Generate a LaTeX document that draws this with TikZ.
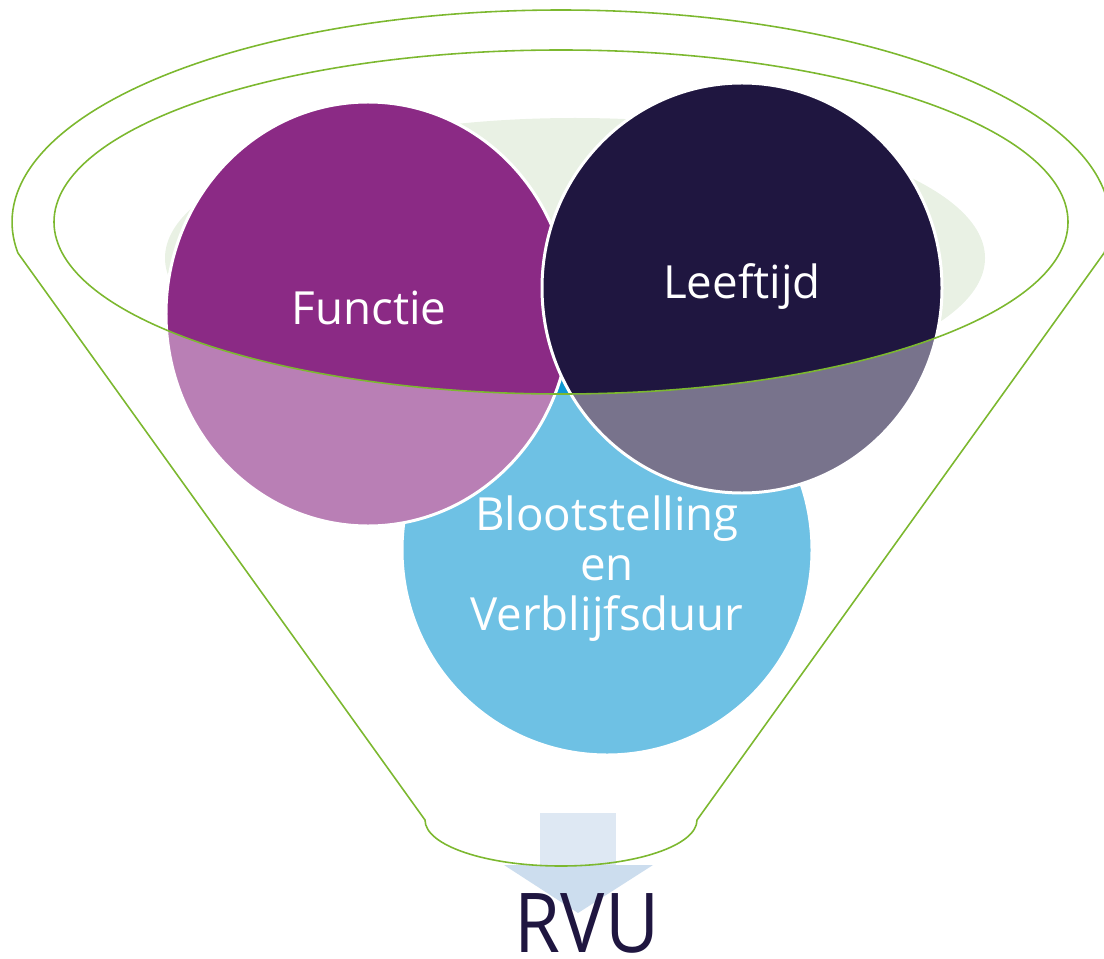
\documentclass[tikz,border=0pt]{standalone}
\usepackage{fontspec}
\setmainfont{Open Sans}
\usepackage{tikz}
\definecolor{funnelgreen}{HTML}{7CB82F}
\definecolor{mouthgreen}{HTML}{E9F1E4}
\definecolor{functiepurple}{HTML}{8B2A85}
\definecolor{leeftijdnavy}{HTML}{1F1640}
\definecolor{blootblue}{HTML}{0E98D2}
\definecolor{arrowbody}{HTML}{DEE8F3}
\definecolor{arrowtip}{HTML}{CCDDEE}

\begin{document}
\begin{tikzpicture}[x=0.02cm, y=0.02cm,
  rim/.style={draw=funnelgreen, line width=0.9pt},
  bubble/.style={draw=white, line width=1.7pt},
  lbl/.style={text=white, font=\fontsize{26}{28.45}\selectfont, align=center, inner sep=0pt}]
  \useasboundingbox (0,0) rectangle (1104,958);
  \clip (0,0) rectangle (1104,958);

  \fill[mouthgreen] (575,700) ellipse [x radius=410, y radius=140];
  \foreach \cx/\cy/\rx/\ry/\col in {607/408/205/205/blootblue,
      368/644/202/212/functiepurple, 742/670/200/205/leeftijdnavy}
    \filldraw[bubble, fill=\col] (\cx,\cy) ellipse [x radius=\rx, y radius=\ry];

  \fill[white, opacity=0.4] (54,736) arc [start angle=180, end angle=360, x radius=507, y radius=172]
    -- (1068,0) -- (54,0) -- cycle;

  \fill[arrowbody] (540,93) rectangle (616,145);
  \fill[arrowtip] (504,93) -- (653,93) -- (578,45) -- cycle;

  \draw[rim] (561,736) ellipse [x radius=507, y radius=172];
  \draw[rim] ([shift={(-8.4:549 and 212)}]561,736)
    arc [start angle=-8.4, end angle=188.4, x radius=549, y radius=212]
    -- (425,138) arc [start angle=180, end angle=360, x radius=136, y radius=46] -- cycle;

  \node[lbl, anchor=base] (functie) at (369,634) {Functie};
  \node[lbl, anchor=base] (leeftijd) at (742,660) {Leeftijd};
  \node[lbl] (bloot) at (607,389) {Blootstelling\\en\\Verblijfsduur};
  \node[anchor=base, inner sep=0pt, xscale=0.9, text=leeftijdnavy, font=\fontsize{47}{52}\selectfont] (rvu) at (587,6) {RVU};
\end{tikzpicture}
\end{document}
